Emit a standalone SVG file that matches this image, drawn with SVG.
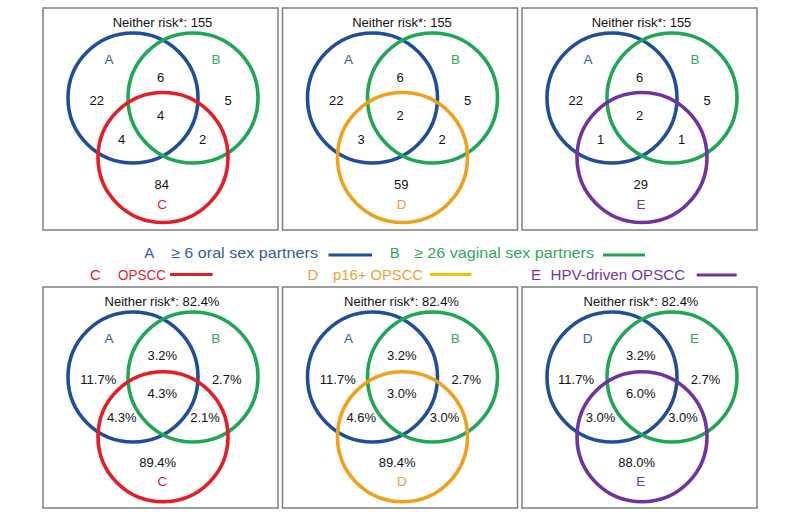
<svg xmlns="http://www.w3.org/2000/svg" width="800" height="530" viewBox="0 0 800 530">
<style>
text{font-family:"Liberation Sans",Arial,sans-serif;}
.box{fill:#fff;stroke:#7f7f7f;stroke-width:1.5;}
.c{fill:none;stroke-width:3.6;}
.blue{stroke:#1f4f9a;}
.green{stroke:#1fa854;}
.red{stroke:#e51d25;}
.orange{stroke:#f0a11c;}
.purple{stroke:#7232a0;}
.hd{font-size:13px;fill:#111;text-anchor:middle;}
.n{font-size:13px;fill:#111;text-anchor:middle;}
.lb{font-size:13.5px;text-anchor:middle;}
.tb{fill:#2f5f9e;}
.tg{fill:#2fa95a;}
.tr{fill:#e0222a;}
.to{fill:#e9a23b;}
.tp{fill:#7435a0;}
.lg{font-size:15px;}
.ll{stroke-width:3;}
</style>
<rect width="800" height="530" fill="#fff"/>

<!-- Top row -->
<g id="panel-top-1">
<rect class="box" x="43" y="8" width="235" height="222"/>
<circle class="c blue" cx="133" cy="98" r="65"/>
<circle class="c green" cx="193" cy="98" r="65"/>
<circle class="c red" cx="163" cy="157.5" r="65"/>
<text class="hd" x="162.5" y="27">Neither risk*: 155</text>
<text class="lb tb" x="109" y="64">A</text>
<text class="lb tg" x="216" y="64">B</text>
<text class="n" x="160.7" y="82">6</text>
<text class="n" x="96.7" y="105">22</text>
<text class="n" x="228" y="105">5</text>
<text class="n" x="160.7" y="120">4</text>
<text class="n" x="121.7" y="144">4</text>
<text class="n" x="202.7" y="144">2</text>
<text class="n" x="161.7" y="189">84</text>
<text class="lb tr" x="162" y="209">C</text>
</g>

<g id="panel-top-2">
<rect class="box" x="282.5" y="8" width="235" height="222"/>
<circle class="c blue" cx="372.5" cy="98" r="65"/>
<circle class="c green" cx="432.5" cy="98" r="65"/>
<circle class="c orange" cx="402.5" cy="157.5" r="65"/>
<text class="hd" x="402" y="27">Neither risk*: 155</text>
<text class="lb tb" x="348.5" y="64">A</text>
<text class="lb tg" x="455.5" y="64">B</text>
<text class="n" x="400.2" y="82">6</text>
<text class="n" x="336.2" y="105">22</text>
<text class="n" x="467.5" y="105">5</text>
<text class="n" x="400.2" y="120">2</text>
<text class="n" x="361.2" y="144">3</text>
<text class="n" x="442.2" y="144">2</text>
<text class="n" x="401.2" y="189">59</text>
<text class="lb to" x="401.5" y="209">D</text>
</g>

<g id="panel-top-3">
<rect class="box" x="522" y="8" width="235" height="222"/>
<circle class="c blue" cx="612" cy="98" r="65"/>
<circle class="c green" cx="672" cy="98" r="65"/>
<circle class="c purple" cx="642" cy="157.5" r="65"/>
<text class="hd" x="641.5" y="27">Neither risk*: 155</text>
<text class="lb tb" x="588" y="64">A</text>
<text class="lb tg" x="695" y="64">B</text>
<text class="n" x="639.7" y="82">6</text>
<text class="n" x="575.7" y="105">22</text>
<text class="n" x="707" y="105">5</text>
<text class="n" x="639.7" y="120">2</text>
<text class="n" x="600.7" y="144">1</text>
<text class="n" x="681.7" y="144">1</text>
<text class="n" x="640.7" y="189">29</text>
<text class="lb tp" x="641" y="209">E</text>
</g>

<!-- Legend -->
<g id="legend">
<text class="lg tb" x="144.3" y="258">A</text>
<text class="lg tb" x="171" y="258" textLength="147" lengthAdjust="spacingAndGlyphs">≥ 6 oral sex partners</text>
<line class="ll blue" x1="328.5" y1="255" x2="372" y2="255"/>
<text class="lg tg" x="389.7" y="258">B</text>
<text class="lg tg" x="414" y="258" textLength="180" lengthAdjust="spacingAndGlyphs">≥ 26 vaginal sex partners</text>
<line class="ll green" x1="603" y1="255" x2="645" y2="255"/>

<text class="lg tr" x="90" y="280">C</text>
<text class="lg tr" x="118" y="280" textLength="48" lengthAdjust="spacingAndGlyphs">OPSCC</text>
<line class="ll red" x1="170" y1="274.5" x2="212.7" y2="274.5"/>
<text class="lg to" x="307.5" y="280">D</text>
<text class="lg to" x="333" y="280" textLength="90" lengthAdjust="spacingAndGlyphs">p16+ OPSCC</text>
<line class="ll" stroke="#f5c000" x1="430" y1="274.5" x2="471.5" y2="274.5"/>
<text class="lg tp" x="531" y="280">E</text>
<text class="lg tp" x="550.6" y="280" textLength="134.5" lengthAdjust="spacingAndGlyphs">HPV-driven OPSCC</text>
<line class="ll purple" x1="696.7" y1="275" x2="736.7" y2="275"/>
</g>

<!-- Bottom row -->
<g id="panel-bottom-1">
<rect class="box" x="43" y="287" width="235" height="221"/>
<circle class="c blue" cx="133" cy="377" r="65"/>
<circle class="c green" cx="193" cy="377" r="65"/>
<circle class="c red" cx="163" cy="436.7" r="65"/>
<text class="hd" x="162" y="306">Neither risk*: 82.4%</text>
<text class="lb tb" x="109" y="343">A</text>
<text class="lb tg" x="215.7" y="343">B</text>
<text class="n" x="162.3" y="360">3.2%</text>
<text class="n" x="98.3" y="383.5">11.7%</text>
<text class="n" x="226.7" y="383.5">2.7%</text>
<text class="n" x="162.3" y="398">4.3%</text>
<text class="n" x="121.7" y="422">4.3%</text>
<text class="n" x="205" y="422">2.1%</text>
<text class="n" x="157.7" y="467">89.4%</text>
<text class="lb tr" x="162.3" y="486">C</text>
</g>

<g id="panel-bottom-2">
<rect class="box" x="282.5" y="287" width="235" height="221"/>
<circle class="c blue" cx="372.5" cy="377" r="65"/>
<circle class="c green" cx="432.5" cy="377" r="65"/>
<circle class="c orange" cx="402.5" cy="436.7" r="65"/>
<text class="hd" x="401.5" y="306">Neither risk*: 82.4%</text>
<text class="lb tb" x="348.5" y="343">A</text>
<text class="lb tg" x="455.2" y="343">B</text>
<text class="n" x="401.8" y="360">3.2%</text>
<text class="n" x="337.8" y="383.5">11.7%</text>
<text class="n" x="466.2" y="383.5">2.7%</text>
<text class="n" x="401.8" y="398">3.0%</text>
<text class="n" x="361.2" y="422">4.6%</text>
<text class="n" x="444.5" y="422">3.0%</text>
<text class="n" x="397.2" y="467">89.4%</text>
<text class="lb to" x="401.8" y="486">D</text>
</g>

<g id="panel-bottom-3">
<rect class="box" x="522" y="287" width="235" height="221"/>
<circle class="c blue" cx="612" cy="377" r="65"/>
<circle class="c green" cx="672" cy="377" r="65"/>
<circle class="c purple" cx="642" cy="436.7" r="65"/>
<text class="hd" x="641" y="306">Neither risk*: 82.4%</text>
<text class="lb tb" x="587.5" y="343">D</text>
<text class="lb tg" x="694.5" y="343">E</text>
<text class="n" x="640.7" y="360">3.2%</text>
<text class="n" x="576" y="383.5">11.7%</text>
<text class="n" x="705.5" y="383.5">2.7%</text>
<text class="n" x="640.7" y="398">6.0%</text>
<text class="n" x="600.5" y="422">3.0%</text>
<text class="n" x="683" y="422">3.0%</text>
<text class="n" x="636.7" y="467">88.0%</text>
<text class="lb tp" x="640.7" y="486">E</text>
</g>
</svg>
